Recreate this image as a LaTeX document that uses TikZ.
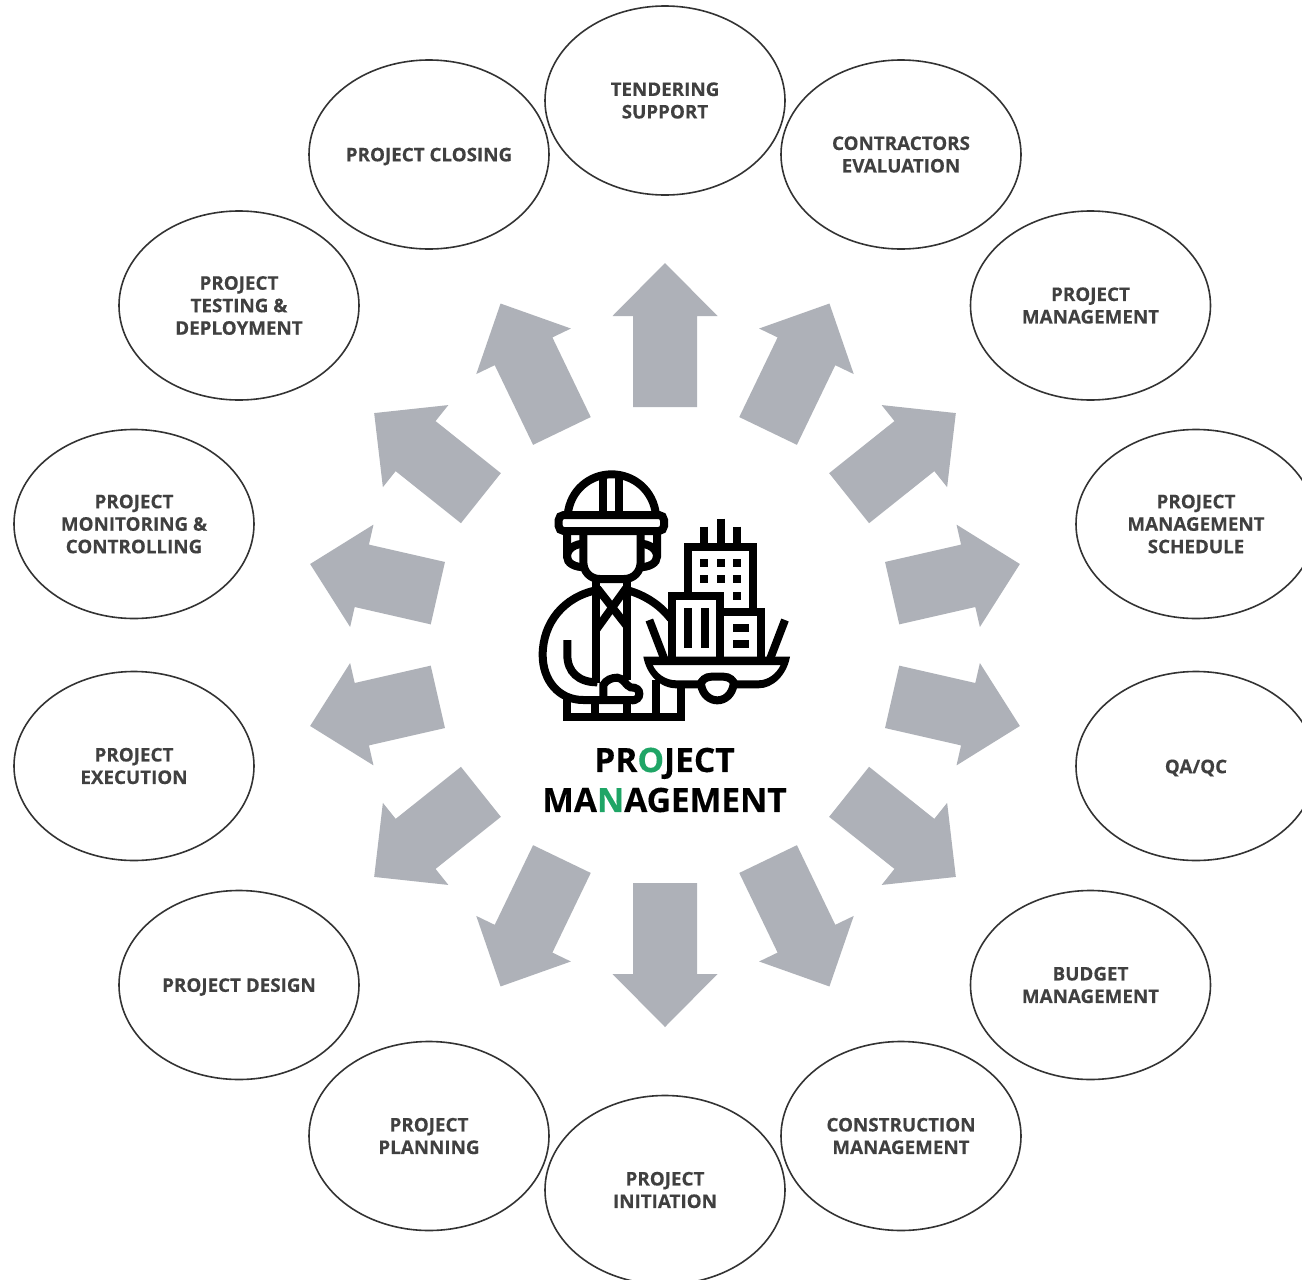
\documentclass[tikz,border=0pt]{standalone}
\usepackage{fontspec}
\setmainfont{Open Sans}[BoldFont={Open Sans Bold},BoldFeatures={FakeBold=0.25}]
\usetikzlibrary{shapes.geometric}
\definecolor{arrowgrey}{HTML}{AEB1B8}
\definecolor{labelgrey}{HTML}{404040}
\definecolor{ringline}{HTML}{333333}
\definecolor{accent}{HTML}{1FA566}
\newcommand{\lowerline}[1]{\raisebox{-2pt}[\height][\depth]{#1}}
\tikzset{
  topic/.style={ellipse,draw=ringline,line width=1.6pt,fill=white,minimum width=240pt,minimum height=189pt,inner sep=0pt,align=center,text=labelgrey,font=\fontsize{18.8}{22.5}\selectfont\bfseries},
  blockarrow/.style={fill=arrowgrey,draw=none},
  icon/.style={draw=black,line width=8pt,line join=miter,line cap=butt},
  iconfill/.style={fill=black,draw=none}
}
\begin{document}
\begin{tikzpicture}[x=1pt,y=-1pt]
\useasboundingbox (0,0) rectangle (1302,1280);
\clip (0,0) rectangle (1302,1280);
\fill[white] (0,0) rectangle (1302,1280);
\foreach \k/\ra/\rb in {0/238/382,1/237.6/379,2/235.5/372,3/233/364,4/233/364,5/235.5/372,6/237.6/379,7/238/382,8/237.6/379,9/235.5/372,10/233/364,11/233/364,12/235.5/372,13/237.6/379}{
  \pgfmathsetmacro{\ytip}{645-\rb}
  \pgfmathsetmacro{\yhead}{645-\rb+53}
  \pgfmathsetmacro{\ytail}{645-\ra}
  \fill[blockarrow,rotate around={\k*360/14:(665,645)}]
    (665,\ytip) -- (717.5,\yhead) -- (697,\yhead) -- (697,\ytail) -- (633,\ytail) -- (633,\yhead) -- (612.5,\yhead) -- cycle;
}
\node[topic] (tender) at (665,100.5) {TENDERING\\SUPPORT};
\node[topic] (contract) at (901,154.5) {CONTRACTORS\\EVALUATION};
\node[topic] (pm) at (1090.5,305.5) {PROJECT\\MANAGEMENT};
\node[topic] (sched) at (1196,524) {PROJECT\\MANAGEMENT\\SCHEDULE};
\node[topic] (qa) at (1196,766) {\lowerline{QA/QC}};
\node[topic] (budget) at (1090.5,985) {BUDGET\\MANAGEMENT};
\node[topic] (constr) at (901,1136) {CONSTRUCTION\\MANAGEMENT};
\node[topic] (init) at (665,1190) {PROJECT\\INITIATION};
\node[topic] (plan) at (429,1136) {PROJECT\\PLANNING};
\node[topic] (design) at (239,985) {\lowerline{PROJECT DESIGN}};
\node[topic] (exec) at (134,766) {PROJECT\\EXECUTION};
\node[topic] (monitor) at (134,524) {PROJECT\\MONITORING \&\\CONTROLLING};
\node[topic] (testing) at (239,305.5) {PROJECT\\TESTING \&\\DEPLOYMENT};
\node[topic] (closing) at (429,154.5) {\lowerline{PROJECT CLOSING}};
\node[align=center,inner sep=0pt,font=\fontsize{33.5}{40}\selectfont\bfseries,text=black] (title) at (664.5,780)
  {PR{\color{accent}O}JECT\\MA{\color{accent}N}AGEMENT};
\begin{scope}[shift={(520,450)},x=0.33333pt,y=-0.33333pt]
  % helmet
  \draw[icon] (143,195) .. controls (150,120) and (210,73) .. (275,73) .. controls (340,73) and (400,120) .. (408,195);
  \draw[icon,rounded corners=5pt] (116,195) rectangle (432,243);
  \draw[icon] (250,73) -- (250,195);
  \draw[icon] (298,73) -- (298,195);
  % ears
  \draw[icon] (141,243) -- (141,320) .. controls (141,340) and (165,352) .. (195,352);
  \draw[icon] (411,243) -- (411,320) .. controls (411,340) and (387,352) .. (357,352);
  \draw[icon] (141,320) .. controls (141,295) and (165,282) .. (195,280);
  \draw[icon] (411,320) .. controls (411,295) and (387,282) .. (357,280);
  % head
  \draw[icon] (190,243) -- (190,335) .. controls (190,365) and (210,387) .. (240,387) -- (312,387) .. controls (342,387) and (362,365) .. (362,335) -- (362,243);
  % shoulders and body
  \draw[icon] (232,420) .. controls (130,440) and (68,520) .. (68,615) .. controls (68,690) and (115,750) .. (190,750) -- (345,750);
  \draw[icon] (320,420) .. controls (375,435) and (420,465) .. (452,506);
  % collar and straps
  \draw[icon] (228,390) -- (228,700);
  \draw[icon] (322,390) -- (322,690);
  \draw[icon] (232,415) -- (322,530);
  \draw[icon] (318,415) -- (228,540);
  % arm and hand
  \draw[icon] (142,570) -- (142,615) .. controls (142,665) and (175,697) .. (232,697);
  \draw[icon] (250,750) -- (250,705) .. controls (258,690) and (275,683) .. (292,683) .. controls (310,683) and (318,708) .. (332,712) .. controls (350,712) and (358,720) .. (358,731) .. controls (358,743) and (350,751) .. (335,751);
  % base
  \draw[icon] (141,735) -- (141,802) -- (482,802) -- (482,703);
  \draw[icon] (226,748) -- (226,802);
  \draw[icon] (322,748) -- (322,802);
  \draw[icon] (408,690) -- (408,802);
  % tray handles
  \draw[icon] (388,510) -- (436,635);
  \draw[icon] (795,510) -- (747,635);
  % buildings
  \draw[icon] (457,632) -- (457,437) -- (601,437) -- (601,632);
  \draw[icon] (505,437) -- (505,291) -- (700,291) -- (700,485);
  \draw[icon] (601,485) -- (724,485) -- (724,632);
  \draw[icon] (553,230) -- (553,291);
  \draw[icon] (602,206) -- (602,291);
  \draw[icon] (651,230) -- (651,291);
  % tray
  \fill[iconfill,even odd rule] (370,620) -- (810,620) .. controls (800,675) and (760,715) .. (715,715) -- (470,715) .. controls (420,715) and (380,675) .. (370,620) -- cycle
    (398,645) -- (782,645) .. controls (770,670) and (745,691) .. (715,691) -- (470,691) .. controls (435,691) and (410,670) .. (398,645) -- cycle;
  \fill[white] (552,690) rectangle (632,716);
  \draw[icon] (540,705) .. controls (545,692) and (555,680) .. (575,680) -- (610,680) .. controls (630,680) and (640,692) .. (645,705);
  \draw[icon] (543,703) .. controls (548,735) and (570,751) .. (592,751) .. controls (614,751) and (636,735) .. (641,703);
  % windows
  \fill[iconfill] (493,473) rectangle (517,595);
  \fill[iconfill] (543,473) rectangle (567,595);
  \foreach \wx in {541,590,639}{
    \fill[iconfill] (\wx,328) rectangle ++(24,24);
    \fill[iconfill] (\wx,376) rectangle ++(24,24);
  }
  \fill[iconfill] (639,425) rectangle ++(24,24);
  \fill[iconfill] (640,522) rectangle (688,546);
  \fill[iconfill] (640,570) rectangle (688,594);
\end{scope}
\end{tikzpicture}
\end{document}
